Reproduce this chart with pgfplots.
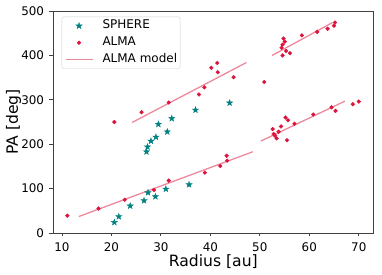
\documentclass[border=0pt]{standalone}
\usepackage{fontspec}
\setmainfont{DejaVu Sans}
\usepackage{pgfplots}
\pgfplotsset{compat=1.18}
\definecolor{sphere}{HTML}{008080}
\definecolor{alma}{HTML}{DC143C}
\definecolor{framec}{HTML}{404040}
\pgfplotsset{
  markleg/.style={legend image code/.code={\draw[##1] plot coordinates {(13.5pt,0pt)};}},
  lineleg/.style={legend image code/.code={\draw[##1] (0pt,0pt) -- (27pt,0pt);}},
}
\pgfdeclareplotmark{fstar}{%
  \pgfpathmoveto{\pgfpointpolar{90}{\pgfplotmarksize}}%
  \pgfpathlineto{\pgfpointpolar{126}{0.4\pgfplotmarksize}}%
  \pgfpathlineto{\pgfpointpolar{162}{\pgfplotmarksize}}%
  \pgfpathlineto{\pgfpointpolar{198}{0.4\pgfplotmarksize}}%
  \pgfpathlineto{\pgfpointpolar{234}{\pgfplotmarksize}}%
  \pgfpathlineto{\pgfpointpolar{270}{0.4\pgfplotmarksize}}%
  \pgfpathlineto{\pgfpointpolar{306}{\pgfplotmarksize}}%
  \pgfpathlineto{\pgfpointpolar{342}{0.4\pgfplotmarksize}}%
  \pgfpathlineto{\pgfpointpolar{18}{\pgfplotmarksize}}%
  \pgfpathlineto{\pgfpointpolar{54}{0.4\pgfplotmarksize}}%
  \pgfpathclose
  \pgfusepathqfillstroke}
\begin{document}
\begin{tikzpicture}
\path[use as bounding box] (-53pt,-42pt) rectangle (329pt,233pt);
\begin{axis}[
  at={(0pt,0pt)}, anchor=south west,
  scale only axis, width=320.6pt, height=222pt,
  xmin=8.2, xmax=73.0, ymin=0, ymax=500,
  xtick={10,20,30,40,50,60,70},
  ytick={0,100,200,300,400,500},
  axis line style={framec, line width=0.8pt},
  tick style={framec, line width=0.8pt},
  tick align=outside, tick pos=lower,
  major tick length=3.5pt,
  /pgf/number format/assume math mode=true,
  ticklabel style={font=\fontsize{11.9}{14}\selectfont, text=black},
  xticklabel style={anchor=base, yshift=-14.7pt, inner sep=0pt},
  yticklabel style={anchor=east, xshift=-5.3pt, inner sep=0pt},
  every axis x label/.style={at={([yshift=-33.7pt]axis description cs:0.5,0)}, anchor=base},
  every axis y label/.style={at={([xshift=-39.5pt]axis description cs:0,0.5)}, rotate=90, anchor=center},
  label style={font=\fontsize{15.6}{18}\selectfont},
  xlabel={Radius [au]},
  ylabel={PA [deg]},
  legend cell align=left,
  legend style={at={(axis description cs:0,1)}, anchor=north west,
    xshift=8.7pt, yshift=-5.7pt, draw=black!18, rounded corners=2pt,
    font=\fontsize{12}{14}\selectfont, inner xsep=3pt, inner ysep=3pt,
    row sep=4.8pt,
    nodes={inner sep=0pt, text height=9pt, text depth=3pt},
    /tikz/every odd column/.append style={column sep=9.3pt}},
]
\addplot[only marks, mark=fstar, mark size=3.2pt, color=sphere, markleg]
coordinates {
(20.6,24)(21.5,37)(23.8,61)(26.6,73)(27.4,91)(28.9,82)(31.0,99)(35.7,109)
(27.1,183)(27.3,194)(28.0,207)(29.0,216)(29.5,245)(31.3,228)(32.2,258)(37.0,277)(43.9,293)
};
\addlegendentry{SPHERE}
\addplot[only marks, mark=*, mark size=1.9pt, color=alma, markleg]
coordinates {
(11.1,39)(17.4,55)(22.7,75)(28.6,97)(31.6,118)(38.9,136)(42.0,151)(43.4,163)(43.3,174)
(20.6,250)(26.1,272)(31.6,294)(37.7,312)(38.8,328)(44.7,351)(40.2,372)(41.4,383)(41.5,362)
(50.9,340)
(52.6,234)(52.8,223)(53.1,219)(53.4,213)(53.8,228)(54.3,240)(55.2,260)(55.7,254)(55.5,209)
(57.0,246)(60.8,267)(64.5,283)(65.3,275)(68.8,290)(70.0,296)
(54.8,438)(55.05,431)(54.6,424)(54.4,417)(55.3,410)(56.1,405)(54.6,400)
(58.5,445)(61.6,453)(63.7,460)(65.0,467)(65.2,474)
};
\addlegendentry{ALMA}
\addplot[no marks, color=alma, opacity=0.5, line width=1.3pt, lineleg]
coordinates {(13.4,37)(48.6,183)};
\addlegendentry{ALMA model}
\addplot[no marks, color=alma, opacity=0.5, line width=1.3pt, forget plot]
coordinates {(24.2,249)(47.3,384)};
\addplot[no marks, color=alma, opacity=0.5, line width=1.3pt, forget plot]
coordinates {(50.2,207)(67.2,297)};
\addplot[no marks, color=alma, opacity=0.5, line width=1.3pt, forget plot]
coordinates {(52.5,400)(64.7,474)};
\end{axis}
\end{tikzpicture}
\end{document}
